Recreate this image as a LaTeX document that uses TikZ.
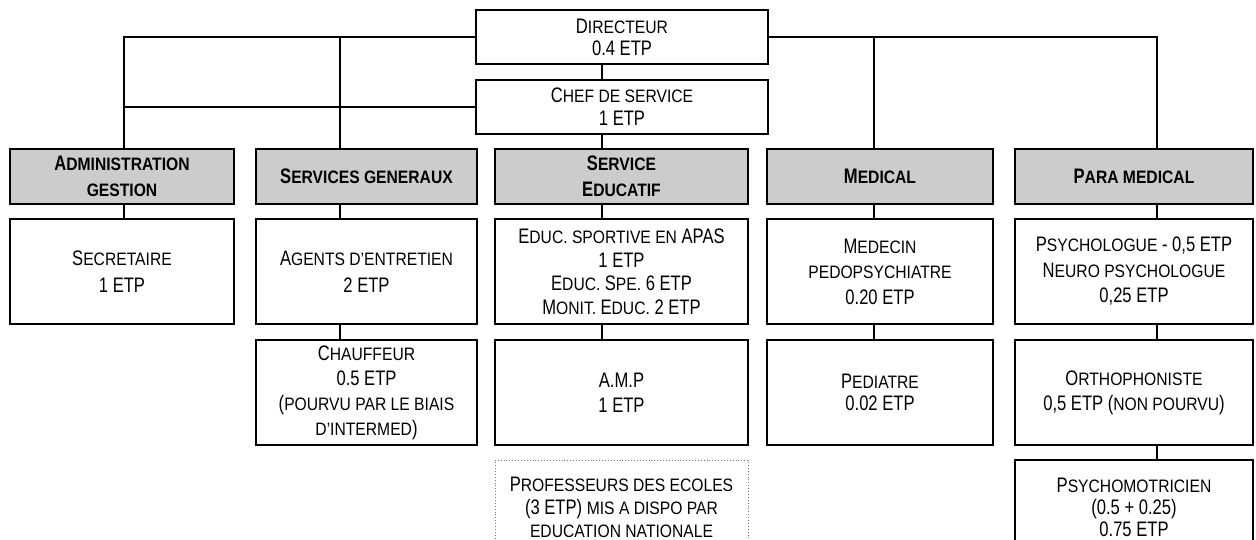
\documentclass[tikz,border=0pt]{standalone}
\usepackage{fontspec}
\setmainfont{Liberation Sans}[FakeStretch=0.79]
% reduced capitals used for the small-caps parts of the labels
\newfontfamily\capsfont{Liberation Sans}[FakeStretch=0.87]
\newcommand\lowcaps[1]{{\capsfont\fontsize{18pt}{25pt}\selectfont #1}}
\definecolor{headgray}{RGB}{204,204,204}
\begin{document}
\begin{tikzpicture}[x=1pt,y=-1pt,
  cell/.style={draw, line width=1.8pt, inner sep=0pt, align=center,
    font=\fontsize{21pt}{25pt}\selectfont},
  head/.style={cell, fill=headgray, font=\fontsize{21pt}{26pt}\selectfont\bfseries},
  link/.style={line width=1.8pt},
  dotbox/.style={draw=black!55, dotted, line width=0.9pt, inner sep=0pt, align=center,
    font=\fontsize{21pt}{23pt}\selectfont}
]
\useasboundingbox (0,0) rectangle (1256,539);
\clip (0,0) rectangle (1256,539);

% column axes of the connectors
\coordinate (cA) at (124,0);
\coordinate (cB) at (340,0);
\coordinate (cC) at (602,0);
\coordinate (cD) at (874,0);
\coordinate (cE) at (1157,0);

% direction
\node[cell, minimum width=292pt, minimum height=54pt, font=\fontsize{21pt}{22pt}\selectfont]
  (dir) at (622,37) {D\lowcaps{IRECTEUR}\\0.4 ETP};
\node[cell, minimum width=292pt, minimum height=54pt, font=\fontsize{21pt}{23pt}\selectfont]
  (chef) at (622,107) {C\lowcaps{HEF DE SERVICE}\\1 ETP};

% service headers
\node[head, minimum width=224pt, minimum height=55pt] (hA) at (122,176.5)
  {A\lowcaps{DMINISTRATION}\\\lowcaps{GESTION}};
\node[head, minimum width=221pt, minimum height=55pt] (hB) at (366.5,176.5)
  {S\lowcaps{ERVICES GENERAUX}};
\node[head, minimum width=253pt, minimum height=55pt] (hC) at (621.5,176.5)
  {S\lowcaps{ERVICE}\\E\lowcaps{DUCATIF}};
\node[head, minimum width=226pt, minimum height=55pt] (hD) at (880,176.5)
  {M\lowcaps{EDICAL}};
\node[head, minimum width=238pt, minimum height=55pt] (hE) at (1134,176.5)
  {P\lowcaps{ARA MEDICAL}};

% second row
\node[cell, minimum width=224pt, minimum height=105pt, font=\fontsize{21pt}{27pt}\selectfont]
  (bA) at (122,271.5) {S\lowcaps{ECRETAIRE}\\1 ETP};
\node[cell, minimum width=221pt, minimum height=105pt, font=\fontsize{21pt}{27pt}\selectfont]
  (bB) at (366.5,271.5) {A\lowcaps{GENTS D’ENTRETIEN}\\2 ETP};
\node[cell, minimum width=253pt, minimum height=105pt, font=\fontsize{21pt}{23.5pt}\selectfont]
  (bC) at (621.5,271.5)
  {E\lowcaps{DUC. SPORTIVE EN} APAS\\1 ETP\\E\lowcaps{DUC. }S\lowcaps{PE.} 6 ETP\\M\lowcaps{ONIT. }E\lowcaps{DUC.} 2 ETP};
\node[cell, minimum width=226pt, minimum height=105pt, font=\fontsize{21pt}{25.5pt}\selectfont]
  (bD) at (880,271.5) {M\lowcaps{EDECIN}\\\lowcaps{PEDOPSYCHIATRE}\\0.20 ETP};
\node[cell, minimum width=238pt, minimum height=105pt, font=\fontsize{21pt}{25.5pt}\selectfont]
  (bE) at (1134,271.5) {P\lowcaps{SYCHOLOGUE} - 0,5 ETP\\N\lowcaps{EURO PSYCHOLOGUE}\\0,25 ETP};

% third row
\node[cell, minimum width=221pt, minimum height=105pt]
  (tB) at (366.5,392.5) {C\lowcaps{HAUFFEUR}\\0.5 ETP\\(\lowcaps{POURVU PAR LE BIAIS}\\\lowcaps{D’INTERMED})};
\node[cell, minimum width=253pt, minimum height=105pt]
  (tC) at (621.5,392.5) {A.M.P\\1 ETP};
\node[cell, minimum width=226pt, minimum height=105pt, font=\fontsize{21pt}{22pt}\selectfont]
  (tD) at (880,392.5) {P\lowcaps{EDIATRE}\\0.02 ETP};
\node[cell, minimum width=238pt, minimum height=105pt]
  (tE) at (1134,392.5) {O\lowcaps{RTHOPHONISTE}\\0,5 ETP (\lowcaps{NON POURVU})};

% fourth row
\node[dotbox, minimum width=253pt, minimum height=95pt]
  (fC) at (621.5,507.5)
  {P\lowcaps{ROFESSEURS DES ECOLES}\\(3 ETP) \lowcaps{MIS A DISPO PAR}\\\lowcaps{EDUCATION NATIONALE}};
\node[cell, minimum width=238pt, minimum height=95pt, font=\fontsize{21pt}{22pt}\selectfont]
  (fE) at (1134,507.5) {P\lowcaps{SYCHOMOTRICIEN}\\(0.5 + 0.25)\\0.75 ETP};

% links from the direction to the services
\draw[link] (dir.west) -- (cA |- dir.west) -- (hA.north -| cA);
\draw[link] (cB |- dir.west) -- (hB.north -| cB);
\draw[link] (chef.west) -- (cA |- chef.west);
\draw[link] (dir.east) -- (cE |- dir.east) -- (hE.north -| cE);
\draw[link] (cD |- dir.east) -- (hD.north -| cD);
\draw[link] (dir.south -| cC) -- (chef.north -| cC);
\draw[link] (chef.south -| cC) -- (hC.north -| cC);

% links inside each service
\draw[link] (hA.south -| cA) -- (bA.north -| cA);
\draw[link] (hB.south -| cB) -- (bB.north -| cB);
\draw[link] (bB.south -| cB) -- (tB.north -| cB);
\draw[link] (hC.south -| cC) -- (bC.north -| cC);
\draw[link] (bC.south -| cC) -- (tC.north -| cC);
\draw[link] (hD.south -| cD) -- (bD.north -| cD);
\draw[link] (bD.south -| cD) -- (tD.north -| cD);
\draw[link] (hE.south -| cE) -- (bE.north -| cE);
\draw[link] (bE.south -| cE) -- (tE.north -| cE);
\draw[link] (tE.south -| cE) -- (fE.north -| cE);
\end{tikzpicture}
\end{document}
